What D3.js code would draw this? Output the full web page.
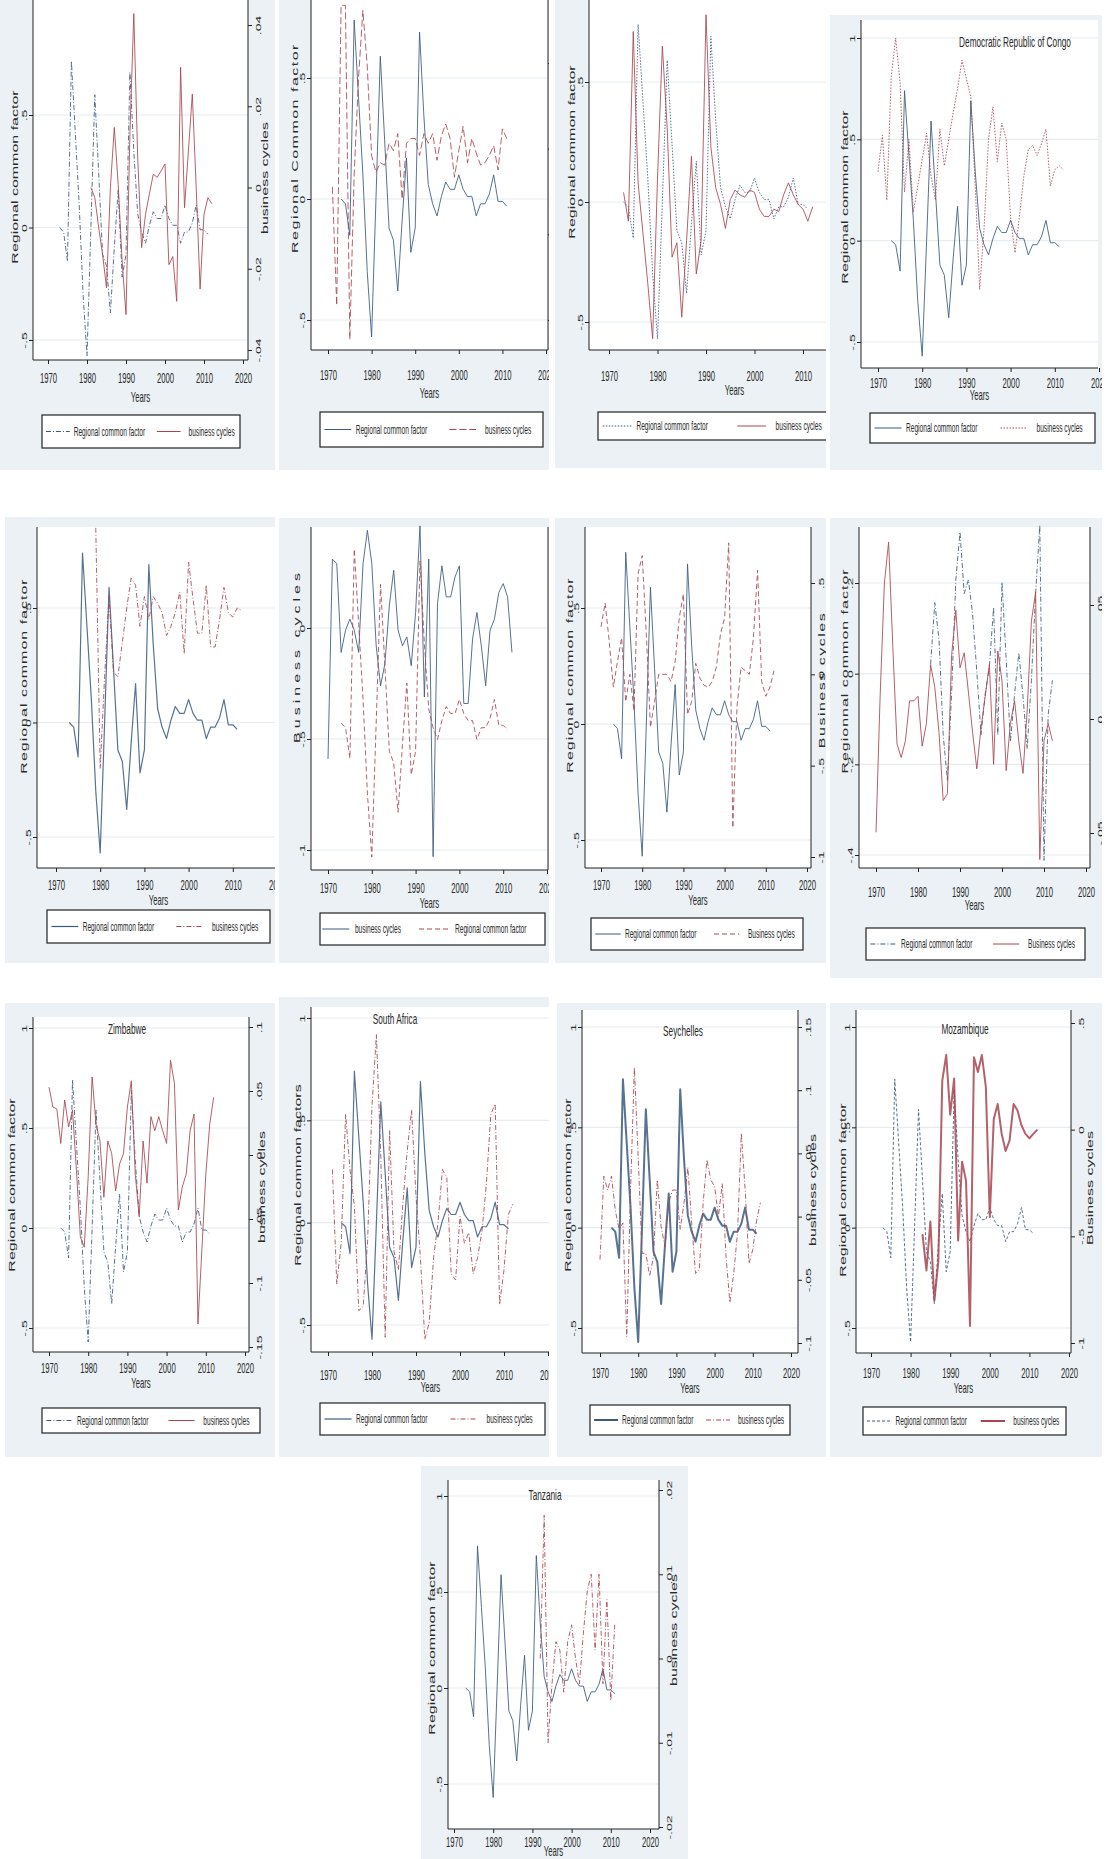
<!DOCTYPE html>
<html>
<head>
<meta charset="utf-8">
<script src="https://cdn.jsdelivr.net/npm/d3@7"></script>
<style>
  body { margin: 0; background: #fff; }
  svg { display: block; }
  text { font-family: "Liberation Sans", Arial, sans-serif; fill: #2a2a2a; }
</style>
</head>
<body>
<div id="chart"></div>
<script>
// ---- data ----
const xTickYears = [1970, 1980, 1990, 2000, 2010, 2020]

// regional common factor, same series in most panels, 1973-2011
const rcfStart = 1973
const rcfValues = [0.00, -0.02, -0.15, 0.74, 0.42, 0.10, -0.30, -0.57, 0.00, 0.59,
    0.24, -0.12, -0.17, -0.38, -0.09, 0.17, -0.22, -0.12, 0.69, 0.34,
    0.06, -0.02, -0.07, 0.01, 0.07, 0.04, 0.04, 0.10, 0.04, 0.01,
    0.01, -0.07, -0.02, -0.02, 0.02, 0.10, -0.01, -0.01, -0.03]

// business cycles, one array per panel
const bc1Start = 1981
const bc1Values = [0, -0.0025, -0.0099, -0.0165, -0.0247, 0, 0.0148, 0.0008, -0.0181, -0.0313,
    0.0132, 0.0428, 0.0074, -0.0148, -0.0066, -0.0016, 0.0033, 0.0025, 0.0041, 0.0058,
    -0.019, -0.017, -0.028, 0.0296, -0.005, 0.009, 0.023, 0, -0.025, -0.0066, -0.0025, -0.004]

const bc2Start = 1971
const bc2Values = [0.05, -0.44, 0.8, 0.8, -0.58, 0.1, 0.5, 0.78, 0.55, 0.18,
    0.11, 0.15, 0.14, 0.23, 0.2, 0.27, 0, 0.23, 0.25, 0.25,
    0.18, 0.27, 0.23, 0.27, 0.16, 0.26, 0.31, 0.25, 0.09, 0.2,
    0.3, 0.15, 0.25, 0.19, 0.14, 0.15, 0.18, 0.22, 0.12, 0.29, 0.25]

const bc3Start = 1973
const bc3Values = [0.04, -0.08, 0.71, 0.08, -0.13, -0.34, -0.57, 0.1, 0.65, 0.31,
    -0.23, -0.17, -0.48, -0.16, 0.19, -0.3, -0.16, 0.78, 0.23, 0.06,
    -0.01, -0.11, 0.01, 0.05, 0.03, 0.02, 0.05, 0.04, -0.03, -0.06,
    -0.06, -0.03, -0.04, 0.03, 0.08, 0.03, -0.01, -0.03, -0.08, -0.02]

const bc4Start = 1970
const bc4Values = [0.34, 0.52, 0.2, 0.81, 1.0, 0.78, 0.24, 0.5, 0.14, 0.27,
    0.4, 0.53, 0.32, 0.2, 0.55, 0.37, 0.5, 0.63, 0.75, 0.89,
    0.8, 0.71, 0.27, -0.24, 0.06, 0.5, 0.66, 0.39, 0.58, 0.5,
    0.11, -0.06, 0.12, 0.32, 0.45, 0.47, 0.42, 0.48, 0.55, 0.27, 0.35, 0.37, 0.35]

const bc5Start = 1979
const bc5Values = [0.85, -0.2, 0.2, 0.55, 0.22, 0.2, 0.35, 0.5, 0.63, 0.6,
    0.42, 0.55, 0.45, 0.55, 0.52, 0.48, 0.38, 0.42, 0.48, 0.57,
    0.3, 0.7, 0.54, 0.39, 0.39, 0.6, 0.33, 0.33, 0.45, 0.59, 0.48, 0.46, 0.5, 0.49]

const bc6Start = 1970
const bc6Values = [-0.59, 0.31, 0.29, -0.11, -0.01, 0.04, -0.01, -0.11, 0.29, 0.44,
    0.29, -0.08, -0.26, -0.16, 0.1, 0.26, -0.01, -0.08, -0.04, -0.17,
    0.07, 0.46, -0.31, 0.31, -1.03, 0.11, 0.28, 0.14, 0.14, 0.23,
    0.28, -0.34, -0.34, -0.05, 0.07, -0.08, -0.26, -0.01, 0.04, 0.16, 0.2, 0.14, -0.11]

const bc7Start = 1970
const bc7Values = [0.26, 0.39, 0.18, -0.07, 0.07, 0.2, -0.15, 0, -0.2, 0.55,
    0.65, 0.22, -0.29, -0.15, 0, 0, 0, -0.04, 0.07, 0.31,
    0.44, -0.22, -0.15, 0.06, -0.02, -0.06, -0.07, -0.04, 0.04, 0.22,
    0.31, 0.72, -0.84, -0.18, 0.04, 0.02, 0, 0.2, 0.57, -0.04, -0.12, -0.07, 0.02]

const bc8Start = 1970
const bc8Values = [-0.35, -0.045, 0.2, 0.29, 0.06, -0.155, -0.185, -0.148, -0.06, -0.06,
    -0.05, -0.16, -0.11, 0.02, -0.03, -0.13, -0.28, -0.265, 0.04, 0.14,
    0.013, 0.046, -0.04, -0.13, -0.21, -0.12, -0.05, 0.02, -0.2, 0.05,
    -0.016, -0.214, -0.11, -0.06, -0.15, -0.22, -0.08, 0.116, 0.18, -0.41, -0.148, -0.11, -0.148]
const rcf8Start = 1983
const rcf8Values = [0.024, 0.051, 0.035, -0.007, -0.027, 0.011, 0.061, 0.082, 0.055, 0.061,
    0.046, 0.021, -0.007, 0.011, 0.023, 0.049, -0.007, 0.06, 0.026, -0.01,
    0.011, 0.029, 0.01, -0.013, 0.017, 0.055, 0.085, -0.062, 0.002, 0.017]

const bc9Start = 1970
const bc9Values = [0.053, 0.0375, 0.036, 0.009, 0.043, 0.022, 0.035, -0.012, -0.064, -0.072,
    -0.017, 0.061, 0.024, 0.011, -0.033, 0.011, 0.001, -0.028, -0.007, 0.001,
    0.0375, 0.058, -0.015, -0.048, 0.011, -0.022, 0.03, 0.019, 0.03, 0.019,
    0.009, 0.074, 0.056, -0.043, -0.025, -0.015, 0.019, 0.032, -0.132, -0.074, -0.015, 0.024, 0.045]

const bc10Start = 1971
const bc10Values = [0.26, -0.3, -0.1, 0.53, 0.26, 0.08, -0.43, -0.41, -0.09, 0.57,
    0.92, 0.32, -0.56, 0.45, -0.14, -0.23, 0.09, 0.35, 0.55, 0.13,
    -0.17, -0.57, -0.49, -0.17, 0, 0.26, 0.22, -0.25, -0.28, 0.03,
    -0.1, -0.05, -0.25, -0.17, -0.04, 0.19, 0.53, 0.58, -0.4, -0.23, 0.04, 0.09]

const bc11Start = 1970
const bc11Values = [-0.034, 0.032, 0.021, 0.032, 0.005, -0.01, -0.005, -0.095, 0.021, 0.118,
    0.047, -0.029, -0.029, -0.047, -0.032, 0.029, -0.008, -0.024, 0.011, 0.021,
    0.021, -0.01, 0.011, 0.039, -0.005, -0.045, -0.042, 0.011, 0.045, 0.029,
    0.024, 0, 0.026, -0.032, -0.068, -0.045, -0.013, 0.066, 0.021, -0.037, -0.026, -0.003, 0.011]

const bc12Start = 1983
const bc12Values = [-0.49, -0.66, -0.43, -0.8, -0.62, 0.23, 0.35, 0.07, 0.24, -0.52,
    -0.15, -0.24, -0.92, 0.34, 0.27, 0.35, 0.2, -0.41, 0.05, 0.12,
    -0.02, -0.1, -0.05, 0.12, 0.09, 0.02, -0.02, -0.04, -0.02, 0]

const bc13Start = 1992
const bc13Values = [0.0, 0.017, -0.01, -0.003, 0.002, 0.001, -0.004, 0.002, 0.004, 0.0,
    -0.003, 0.003, 0.008, 0.010, 0.001, 0.010, -0.003, 0.007, -0.005, 0.004]

// ---- styles ----
const navy = "#3a5a7e"
const maroon = "#a8454f"
const bgColor = "#ebf1f4"
const gridColor = "#e6ecef"
const dashDot = "5,2,1,2"
const dashed = "5,3"
const longDash = "7,3"
const dotted = "1.5,1.5"

const rcf = {start: rcfStart, values: rcfValues}

const panels = [
    {
        bg: [0, 0, 275, 470], plot: [33, 0, 248, 360], xr: [48, 243],
        left: {domain: [-0.5, 0.5], range: [340, 115], ticks: [-0.5, 0, 0.5], title: "Regional common factor", tx: 18, ty: 177},
        right: {domain: [-0.04, 0.04], range: [350, 25], ticks: [-0.04, -0.02, 0, 0.02, 0.04], labels: true, title: "business cycles", tx: 268, ty: 178},
        rightLine: true, xdy: 23, ydy: 42,
        series: [
            {data: rcf, axis: "left", color: navy, dash: dashDot, w: 1, label: "Regional common factor"},
            {data: {start: bc1Start, values: bc1Values}, axis: "right", color: maroon, dash: null, w: 1, label: "business cycles"}
        ],
        legend: [42, 415, 198, 33]
    },
    {
        bg: [279, 0, 270, 470], plot: [311, 0, 548, 350], xr: [328, 546],
        left: {domain: [-0.5, 0.5], range: [320, 78], ticks: [-0.5, 0, 0.5], title: "Regional Common factor", tx: 298, ty: 148, ls: 1.5},
        right: {domain: [0, 3], range: [320, 63], ticks: [0, 1, 2, 3], labels: false},
        rightLine: true, xdy: 30, ydy: 48,
        series: [
            {data: rcf, axis: "left", color: navy, dash: null, w: 1, label: "Regional common factor"},
            {data: {start: bc2Start, values: bc2Values}, axis: "left", color: maroon, dash: longDash, w: 1, label: "business cycles"}
        ],
        legend: [320, 412, 223, 35]
    },
    {
        bg: [555, 0, 271, 468], plot: [589, 0, 880, 350], xr: [609, 851.5],
        left: {domain: [-0.5, 0.5], range: [322, 82], ticks: [-0.5, 0, 0.5], title: "Regional common factor", tx: 575, ty: 152},
        right: null, rightLine: false, xdy: 31, ydy: 45,
        series: [
            {data: rcf, axis: "left", color: navy, dash: dotted, w: 1, label: "Regional common factor"},
            {data: {start: bc3Start, values: bc3Values}, axis: "left", color: maroon, dash: null, w: 1, label: "business cycles"}
        ],
        legend: [598, 412, 240, 28]
    },
    {
        bg: [830, 15, 272, 455], plot: [861, 20, 1098, 368], xr: [878, 1099],
        left: {domain: [-0.5, 1], range: [342, 38], ticks: [-0.5, 0, 0.5, 1], title: "Regional common factor", tx: 848, ty: 197},
        right: null, rightLine: false, xdy: 20, ydy: 32,
        title: {text: "Democratic Republic of Congo", x: 1015, y: 47},
        series: [
            {data: rcf, axis: "left", color: navy, dash: null, w: 1, label: "Regional common factor"},
            {data: {start: bc4Start, values: bc4Values}, axis: "left", color: maroon, dash: dotted, w: 1, label: "business cycles"}
        ],
        legend: [870, 413, 225, 30]
    },
    {
        bg: [5, 517, 270, 446], plot: [37, 527, 280, 868], xr: [56, 277],
        left: {domain: [-0.5, 0.5], range: [837, 608], ticks: [-0.5, 0, 0.5], title: "Regional common factor", tx: 27, ty: 676, ls: 1},
        right: null, rightLine: false, xdy: 22, ydy: 37,
        series: [
            {data: rcf, axis: "left", color: navy, dash: null, w: 1.2, label: "Regional common factor"},
            {data: {start: bc5Start, values: bc5Values}, axis: "left", color: maroon, dash: dashDot, w: 1, label: "business cycles"}
        ],
        legend: [47, 910, 223, 33]
    },
    {
        bg: [279, 518, 270, 445], plot: [311, 527, 548, 870], xr: [328, 547],
        left: {domain: [-1, 0], range: [850, 628], ticks: [-1, -0.5, 0], title: "Business cycles", tx: 300, ty: 656, ls: 4},
        right: {domain: [-0.5, 0.5], range: [840.5, 605.5], ticks: [], labels: false},
        rightLine: true, xdy: 23, ydy: 38,
        series: [
            {data: {start: bc6Start, values: bc6Values}, axis: "left", color: navy, dash: null, w: 1, label: "business cycles"},
            {data: rcf, axis: "right", color: maroon, dash: dashed, w: 1, label: "Regional common factor"}
        ],
        legend: [320, 913, 225, 32], legendPos: [[0.01, 0.13, 0.155], [0.44, 0.58, 0.6]]
    },
    {
        bg: [555, 518, 271, 445], plot: [585, 527, 811, 868], xr: [601, 807],
        left: {domain: [-0.5, 0.5], range: [840, 608], ticks: [-0.5, 0, 0.5], title: "Regional common factor", tx: 573, ty: 675, ls: 1},
        right: {domain: [-1, 0.5], range: [857, 583], ticks: [-1, -0.5, 0, 0.5], labels: true, title: "Business cycles", tx: 825, ty: 680, ls: 1.5},
        rightLine: true, xdy: 22, ydy: 37,
        series: [
            {data: rcf, axis: "left", color: navy, dash: null, w: 1, label: "Regional common factor"},
            {data: {start: bc7Start, values: bc7Values}, axis: "right", color: maroon, dash: dashed, w: 1, label: "Business cycles"}
        ],
        legend: [591, 918, 212, 32]
    },
    {
        bg: [830, 518, 272, 460], plot: [859, 527, 1090, 868], xr: [876, 1086],
        left: {domain: [-0.4, 0.2], range: [855, 583], ticks: [-0.4, -0.2, 0, 0.2], title: "Regionnal common factor", tx: 848, ty: 671, ls: 1},
        right: {domain: [-0.05, 0.05], range: [833, 605], ticks: [-0.05, 0, 0.05], labels: true},
        rightLine: true, xdy: 29, ydy: 42,
        series: [
            {data: {start: rcf8Start, values: rcf8Values}, axis: "right", color: navy, dash: dashDot, w: 1, label: "Regional common factor"},
            {data: {start: bc8Start, values: bc8Values}, axis: "left", color: maroon, dash: null, w: 1, label: "Business cycles"}
        ],
        legend: [866, 928, 219, 32]
    },
    {
        bg: [5, 1003, 270, 454], plot: [33, 1017, 249, 1352], xr: [49, 245],
        left: {domain: [-0.5, 1], range: [1328, 1028], ticks: [-0.5, 0, 0.5, 1], title: "Regional common factor", tx: 15, ty: 1185},
        right: {domain: [-0.15, 0.1], range: [1347, 1027], ticks: [-0.15, -0.1, -0.05, 0, 0.05, 0.1], labels: true, title: "business cycles", tx: 265, ty: 1187},
        rightLine: true, xdy: 21, ydy: 36,
        title: {text: "Zimbabwe", x: 127, y: 1034},
        series: [
            {data: rcf, axis: "left", color: navy, dash: dashDot, w: 1, label: "Regional common factor"},
            {data: {start: bc9Start, values: bc9Values}, axis: "right", color: maroon, dash: null, w: 1, label: "business cycles"}
        ],
        legend: [42, 1408, 218, 25]
    },
    {
        bg: [279, 997, 270, 460], plot: [311, 1007, 550, 1352], xr: [328, 548],
        left: {domain: [-0.5, 1], range: [1325, 1018], ticks: [-0.5, 0, 0.5, 1], title: "Regional common factors", tx: 301, ty: 1175},
        right: null, rightLine: false, xdy: 28, ydy: 40,
        title: {text: "South Africa", x: 395, y: 1024},
        series: [
            {data: rcf, axis: "left", color: navy, dash: null, w: 1.2, label: "Regional common factor"},
            {data: {start: bc10Start, values: bc10Values}, axis: "left", color: maroon, dash: dashDot, w: 1, label: "business cycles"}
        ],
        legend: [320, 1403, 225, 32]
    },
    {
        bg: [557, 1003, 269, 454], plot: [582, 1010, 798, 1353], xr: [600, 791],
        left: {domain: [-0.5, 1], range: [1328, 1027], ticks: [-0.5, 0, 0.5, 1], title: "Regional common factor", tx: 571, ty: 1185},
        right: {domain: [-0.1, 0.15], range: [1343, 1027], ticks: [-0.1, -0.05, 0, 0.05, 0.1, 0.15], labels: true, title: "business cycles", tx: 816, ty: 1190},
        rightLine: true, xdy: 25, ydy: 40,
        title: {text: "Seychelles", x: 683, y: 1036},
        series: [
            {data: rcf, axis: "left", color: navy, dash: null, w: 2, label: "Regional common factor"},
            {data: {start: bc11Start, values: bc11Values}, axis: "right", color: maroon, dash: dashDot, w: 1, label: "business cycles"}
        ],
        legend: [590, 1405, 200, 30]
    },
    {
        bg: [830, 1003, 272, 454], plot: [856, 1010, 1071, 1353], xr: [871, 1069],
        left: {domain: [-0.5, 1], range: [1328, 1027], ticks: [-0.5, 0, 0.5, 1], title: "Regional common factor", tx: 846, ty: 1190},
        right: {domain: [-1, 0.5], range: [1343, 1023], ticks: [-1, -0.5, 0, 0.5], labels: true, title: "Business cycles", tx: 1093, ty: 1188},
        rightLine: true, xdy: 25, ydy: 40,
        title: {text: "Mozambique", x: 965, y: 1034},
        series: [
            {data: rcf, axis: "left", color: navy, dash: "3,2", w: 1, label: "Regional common factor"},
            {data: {start: bc12Start, values: bc12Values}, axis: "right", color: maroon, dash: null, w: 2, label: "business cycles"}
        ],
        legend: [863, 1407, 203, 28]
    },
    {
        bg: [421, 1466, 267, 393], plot: [448, 1480, 659, 1829], xr: [454, 650],
        left: {domain: [-0.5, 1], range: [1784, 1496], ticks: [-0.5, 0, 0.5, 1], title: "Regional common factor", tx: 435, ty: 1648},
        right: {domain: [-0.02, 0.02], range: [1827, 1490], ticks: [-0.02, -0.01, 0, 0.01, 0.02], labels: true, title: "business cycles", tx: 677, ty: 1630},
        rightLine: true, xdy: 18, ydy: 27,
        title: {text: "Tanzania", x: 545, y: 1500},
        series: [
            {data: rcf, axis: "left", color: navy, dash: null, w: 1, label: "Regional common factor"},
            {data: {start: bc13Start, values: bc13Values}, axis: "right", color: maroon, dash: dashDot, w: 1, label: "business cycles"}
        ],
        legend: null
    }
]

// ---- drawing ----
const W = 1106, H = 1859
const sq = 0.55  // the panels are squeezed sideways in the picture

const svg = d3.select("#chart").append("svg").attr("width", W).attr("height", H)
const defs = svg.append("defs")

const fmt = d => String(+d.toFixed(4)).replace(/^(-?)0\./, "$1.")

function label(g, x, y, s, size, rotate, anchor, spacing) {
    const t = rotate
        ? `translate(${x},${y}) rotate(-90) scale(1,${sq})`
        : `translate(${x},${y}) scale(${sq},1)`
    return g.append("text").attr("transform", t)
        .attr("text-anchor", anchor || "middle")
        .style("font-size", size + "px")
        .style("letter-spacing", (spacing || 0) + "px")
        .text(s)
}

function drawPanel(p, i) {
    defs.append("clipPath").attr("id", "clip" + i)
        .append("rect").attr("x", p.bg[0]).attr("y", p.bg[1]).attr("width", p.bg[2]).attr("height", p.bg[3])
    const g = svg.append("g").attr("clip-path", `url(#clip${i})`)
    const [pl, pt, pr, pb] = p.plot

    g.append("rect").attr("x", p.bg[0]).attr("y", p.bg[1]).attr("width", p.bg[2]).attr("height", p.bg[3]).attr("fill", bgColor)
    g.append("rect").attr("x", pl).attr("y", pt).attr("width", pr - pl).attr("height", pb - pt).attr("fill", "#fff")

    const x = d3.scaleLinear().domain([1970, 2020]).range(p.xr)
    const yL = d3.scaleLinear().domain(p.left.domain).range(p.left.range)
    const yR = p.right ? d3.scaleLinear().domain(p.right.domain).range(p.right.range) : null

    // grid
    g.append("g").selectAll("line").data(p.left.ticks).join("line")
        .attr("x1", pl).attr("x2", pr).attr("y1", d => yL(d)).attr("y2", d => yL(d))
        .attr("stroke", gridColor).attr("stroke-width", 1.2)

    // series
    p.series.forEach(s => {
        const y = s.axis === "right" ? yR : yL
        const pts = s.data.values.map((v, k) => [s.data.start + k, v])
        g.append("path").datum(pts)
            .attr("fill", "none").attr("stroke", s.color).attr("stroke-width", s.w)
            .attr("stroke-opacity", 0.85)
            .attr("stroke-dasharray", s.dash).attr("stroke-linejoin", "round")
            .attr("d", d3.line().x(d => x(d[0])).y(d => y(d[1])))
    })

    // axis lines
    const ax = g.append("g").attr("stroke", "#222").attr("stroke-width", 1)
    ax.append("line").attr("x1", pl).attr("x2", pl).attr("y1", pt).attr("y2", pb)
    ax.append("line").attr("x1", pl).attr("x2", pr).attr("y1", pb).attr("y2", pb)
    if (p.rightLine) ax.append("line").attr("x1", pr).attr("x2", pr).attr("y1", pt).attr("y2", pb)

    // bottom axis
    const bx = g.append("g").attr("transform", `translate(0,${pb})`)
        .call(d3.axisBottom(x).tickValues(xTickYears).tickFormat(d3.format("d")).tickSize(4).tickSizeOuter(0))
    bx.select(".domain").remove()
    bx.selectAll("line").attr("stroke", "#222")
    bx.selectAll("text").attr("y", null).attr("dy", null)
        .attr("transform", `translate(0,${p.xdy}) scale(${sq},1)`)
        .style("font-size", "14px").attr("fill", "#2a2a2a")
    label(g, (pl + pr) / 2, pb + p.ydy, "Years", 14, false)

    // left axis
    const lx = g.append("g").attr("transform", `translate(${pl},0)`)
        .call(d3.axisLeft(yL).tickValues(p.left.ticks).tickFormat(fmt).tickSize(4).tickSizeOuter(0))
    lx.select(".domain").remove()
    lx.selectAll("line").attr("stroke", "#222")
    lx.selectAll("text").attr("x", null).attr("dy", null)
        .attr("transform", `translate(-6,0) rotate(-90) scale(1,${sq})`)
        .attr("text-anchor", "middle").style("font-size", "14px").attr("fill", "#2a2a2a")
    label(g, p.left.tx, p.left.ty, p.left.title, 16, true, "middle", p.left.ls)

    // right axis
    if (p.right) {
        const rx = g.append("g").attr("transform", `translate(${pr},0)`)
            .call(d3.axisRight(yR).tickValues(p.right.ticks).tickFormat(p.right.labels ? fmt : () => "").tickSize(4).tickSizeOuter(0))
        rx.select(".domain").remove()
        rx.selectAll("line").attr("stroke", "#222")
        rx.selectAll("text").attr("x", null).attr("dy", null)
            .attr("transform", `translate(13,0) rotate(-90) scale(1,${sq})`)
            .attr("text-anchor", "middle").style("font-size", "14px").attr("fill", "#2a2a2a")
        if (p.right.title) label(g, p.right.tx, p.right.ty, p.right.title, 16, true, "middle", p.right.ls)
    }

    if (p.title) label(g, p.title.x, p.title.y, p.title.text, 15, false)

    // legend
    if (p.legend) {
        const [bx0, by0, bw, bh] = p.legend
        const lg = g.append("g")
        lg.append("rect").attr("x", bx0).attr("y", by0).attr("width", bw).attr("height", bh)
            .attr("fill", "#fff").attr("stroke", "#222").attr("stroke-width", 1.2)
        const pos = p.legendPos || [[0.02, 0.14, 0.16], [0.58, 0.70, 0.74]]
        p.series.forEach((s, k) => {
            const cy = by0 + bh / 2
            lg.append("line")
                .attr("x1", bx0 + pos[k][0] * bw).attr("x2", bx0 + pos[k][1] * bw)
                .attr("y1", cy).attr("y2", cy)
                .attr("stroke", s.color).attr("stroke-width", s.w).attr("stroke-dasharray", s.dash)
            label(lg, bx0 + pos[k][2] * bw, cy + 4, s.label, 12, false, "start")
        })
    }
}

panels.forEach(drawPanel)
</script>
</body>
</html>
